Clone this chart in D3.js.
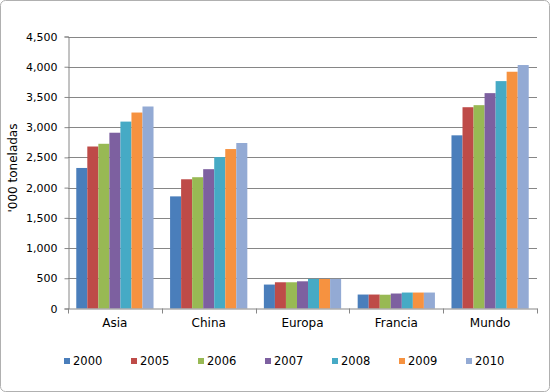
<!DOCTYPE html>
<html>
    <head>
        <title>Toneladas por region</title>
        <script src="https://d3js.org/d3.v7.min.js"></script>
    </head>
    <style>
        body { margin: 0; background: #fff; }
        text { font-family: "DejaVu Sans", Verdana, sans-serif; fill: #000; }
    </style>
    <body>
        <div class="graph"></div>
        <script>
            const categories = ['Asia', 'China', 'Europa', 'Francia', 'Mundo'];
            const years = ['2000', '2005', '2006', '2007', '2008', '2009', '2010'];

            // values in '000 toneladas, one array per year, same order as categories
            const v2000 = [2325, 1855, 396, 231, 2865];
            const v2005 = [2680, 2138, 434, 231, 3330];
            const v2006 = [2725, 2172, 434, 228, 3364];
            const v2007 = [2908, 2305, 450, 248, 3563];
            const v2008 = [3092, 2505, 490, 264, 3762];
            const v2009 = [3242, 2638, 488, 264, 3917];
            const v2010 = [3342, 2738, 490, 264, 4028];
            const series = [v2000, v2005, v2006, v2007, v2008, v2009, v2010];

            const yTicks = [0, 500, 1000, 1500, 2000, 2500, 3000, 3500, 4000, 4500];

            const colours = ['#4a7ebb', '#be4b48', '#98b954', '#7d60a0', '#46aac5', '#f69240', '#93aad4'];

            const width = 550;
            const height = 392;
            const plotLeft = 68, plotRight = 537, plotTop = 36.5, plotBottom = 308.5;

            const svg = d3.select('.graph')
                .append('svg')
                .attr('width', width)
                .attr('height', height);

            // chart frame
            svg.append('rect')
                .attr('x', 0.5).attr('y', 0.5)
                .attr('width', width - 1).attr('height', height - 1)
                .attr('rx', 5)
                .attr('fill', '#fff')
                .attr('stroke', '#b0b0b0');

            const x = d3.scaleBand()
                .domain(categories)
                .range([plotLeft, plotRight]);

            // 7 bars + 150% gap per category
            const xs = d3.scaleBand()
                .domain(years)
                .range([0, x.bandwidth()])
                .paddingOuter(0.75)
                .paddingInner(0);

            const y = d3.scaleLinear()
                .domain([0, 4500])
                .range([plotBottom, plotTop]);

            // gridlines
            svg.append('g')
                .selectAll('line')
                .data(yTicks.filter(d => d > 0))
                .enter()
                .append('line')
                .attr('x1', plotLeft).attr('x2', plotRight)
                .attr('y1', d => Math.round(y(d)) + 0.5)
                .attr('y2', d => Math.round(y(d)) + 0.5)
                .attr('stroke', '#868686');

            // bars
            years.forEach((yr, i) => {
                svg.append('g')
                    .selectAll('rect')
                    .data(series[i])
                    .enter()
                    .append('rect')
                    .attr('x', (d, j) => x(categories[j]) + xs(yr))
                    .attr('y', d => y(d))
                    .attr('width', xs.bandwidth())
                    .attr('height', d => plotBottom - y(d))
                    .attr('fill', colours[i]);
            });

            const yAxis = d3.axisLeft(y)
                .tickValues(yTicks)
                .tickFormat(d3.format(','))
                .tickSize(4)
                .tickPadding(7);

            const gy = svg.append('g')
                .attr('transform', `translate(${plotLeft + 0.5}, 0)`)
                .call(yAxis);
            gy.select('.domain').attr('stroke', '#868686');
            gy.selectAll('.tick line').attr('stroke', '#868686');
            gy.selectAll('.tick text')
                .style('font-size', '11px')
                .attr('fill', '#000');

            const xAxis = d3.axisBottom(x)
                .tickSize(0)
                .tickPadding(10);

            const gx = svg.append('g')
                .attr('transform', `translate(0, ${plotBottom})`)
                .call(xAxis);
            gx.select('.domain').attr('stroke', '#868686');
            gx.selectAll('.tick text')
                .style('font-size', '12px')
                .attr('fill', '#000');

            // category boundary ticks
            gx.append('g')
                .selectAll('line')
                .data(categories.concat(['end']))
                .enter()
                .append('line')
                .attr('x1', (d, j) => Math.round(plotLeft + j * x.step()) + 0.5)
                .attr('x2', (d, j) => Math.round(plotLeft + j * x.step()) + 0.5)
                .attr('y1', 0).attr('y2', 5)
                .attr('stroke', '#868686');

            // y axis title
            svg.append('text')
                .attr('transform', 'translate(17, 168) rotate(-90)')
                .attr('text-anchor', 'middle')
                .style('font-size', '12px')
                .text("'000 toneladas");

            // legend
            const legend = svg.append('g')
                .selectAll('g')
                .data(years)
                .enter()
                .append('g')
                .attr('transform', (d, i) => `translate(${64 + i * 67}, 358)`);
            legend.append('rect')
                .attr('width', 6).attr('height', 6)
                .attr('fill', (d, i) => colours[i]);
            legend.append('text')
                .attr('x', 9).attr('y', 7)
                .style('font-size', '11.5px')
                .text(d => d);
        </script>
    </body>
</html>
